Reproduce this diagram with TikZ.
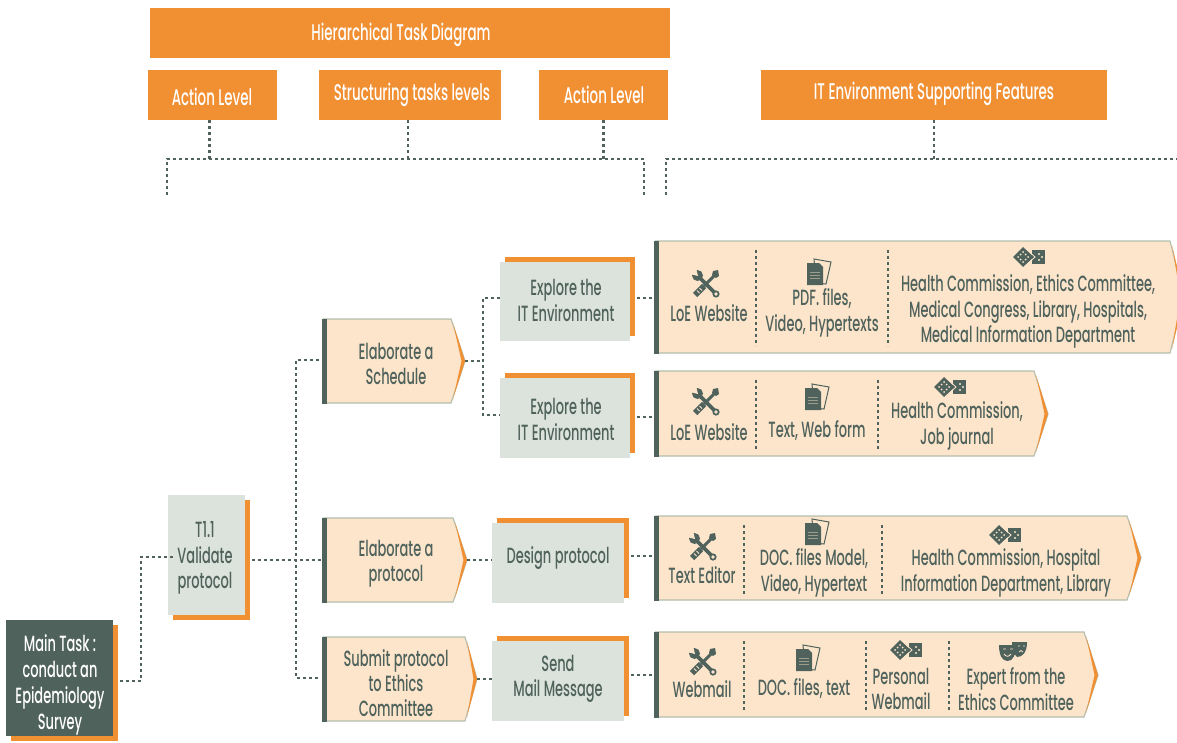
\documentclass[tikz,border=0pt]{standalone}
\usepackage{fontspec}
\setmainfont{Poppins Medium}[FakeStretch=0.59]
\definecolor{slate}{HTML}{4F625C}
\definecolor{orng}{HTML}{F18F33}
\definecolor{cream}{HTML}{FDE5CB}
\definecolor{pale}{HTML}{DCE3DC}
\definecolor{edge}{HTML}{B4BEAE}
\tikzset{
  dots/.style={draw=slate,line width=2.6pt,dash pattern=on 2.6pt off 3.4pt},
  sep/.style={draw=slate,line width=2.6pt,dash pattern=on 2.6pt off 3.4pt},
  hdr/.style={fill=orng,text=white,inner sep=0pt,font=\fontsize{22.7}{25}\selectfont},
  lbl/.style={text=slate,align=center,inner sep=0pt,yshift=-1pt,font=\fontsize{22}{25.3}\selectfont},
  wlbl/.style={lbl,text=white,font=\fontsize{22}{26}\selectfont},
  tools/.pic={
    % wrench
    \draw[slate,line width=3.6pt] (-8,-8) -- (9,9);
    \fill[slate] (-8.5,-8.5) circle (5.5pt);
    \fill[cream] (-8,-8) -- (-16,-10) -- (-10,-16) -- cycle;
    \fill[slate] (10,10) circle (3.6pt);
    \fill[cream] (10,10) circle (1.8pt);
    % screwdriver
    \draw[slate,line width=6pt] (-11,11) -- (-2,2);
    \draw[cream,line width=.8pt] (-9,6.5) -- (-6.5,9) (-6.5,4) -- (-4,6.5);
    \draw[slate,line width=3pt] (-2,2) -- (10,-10);
    \fill[slate] (7,-13) -- (12,-14) -- (13,-8) -- (10,-6) -- (6,-9) -- cycle;
  },
  docs/.pic={
    \filldraw[fill=cream,draw=slate,line width=1pt] (-4,-13) -- (13,-10) -- (8,12) -- (-2,11) -- cycle;
    \fill[slate] (-11,-9) -- (1,-9) -- (5,-5) -- (5,13) -- (-11,13) -- cycle;
    \draw[cream!45!slate,line width=.7pt] (-8,0) -- (2,0) (-8,3) -- (2,3) (-8,6) -- (2,6);
  },
  dice/.pic={
    \fill[slate] (3,-7) rectangle (16,7);
    \fill[slate] (-16,0) -- (-6,-10) -- (5,0) -- (-6,10) -- cycle;
    \draw[cream,line width=.8pt] (-6,-11) -- (6,0) -- (-6,11);
    \foreach \p in {(-11,0),(-6,-5),(-1,0),(-6,5),(-8.5,-2.5),(-3.5,-2.5),(-8.5,2.5),(-3.5,2.5)}
      \fill[cream] \p circle (1pt);
    \foreach \p in {(10,-3),(10,3),(13,0)}
      \fill[cream] \p circle (1.1pt);
  },
  masks/.pic={
    \fill[slate] (-1,-9) -- (14,-9) .. controls (14,2) and (9,6) .. (4,6) -- (-1,0) -- cycle;
    \fill[slate] (-14,-6) -- (3,-6) .. controls (3,4) and (0,10) .. (-5.5,10) .. controls (-11,10) and (-14,4) .. (-14,-6) -- cycle;
    \draw[cream,line width=.8pt] (-10,-2) -- (-7,-2) (-3,-2) -- (0,-2) (-9,3) .. controls (-7,6) and (-4,6) .. (-2,3);
    \draw[cream,line width=.8pt] (5,-5) -- (7,-5) (10,-5) -- (12,-5) (6,1) .. controls (7,-1) and (9,-1) .. (10,1);
  }
}
% name, left, top, shoulder, tip, bottom, mid
\newcommand\banner[7]{%
  \fill[cream] (#2,#3) -- (#4,#3) -- (#5,#7) -- (#4,#6) -- (#2,#6) -- cycle;
  \draw[edge,line width=1.1pt] (#2,#3) -- (#4,#3) -- (#5,#7) -- (#4,#6) -- (#2,#6);
  \fill[orng] (#4+2,#3+4) -- (#5,#7) -- (#4+2,#6-4) -- (#5-3.5,#7) -- cycle;
  \fill[slate] (#2-1,#3-.5) rectangle (#2+3.5,#6+.5);
  \coordinate (#1-in) at (#2,#7);
  \coordinate (#1-out) at (#5,#7);
}
% name, x1, y1, x2, y2, dx, dy, fill
\newcommand\tbox[8]{%
  \fill[orng] (#2+#6,#3+#7) rectangle (#4+#6,#5+#7);
  \node[fill=#8,inner sep=0pt,minimum width={(#4-#2)*1pt},minimum height={(#5-#3)*1pt}] (#1) at ({(#2+#4)/2},{(#3+#5)/2}) {};
}
\begin{document}
\begin{tikzpicture}[x=1pt,y=-1pt]
\useasboundingbox (0,0) rectangle (1177,742);
% header
\node[hdr,minimum width=520pt,minimum height=50pt] (title) at (410,33) {};
\node[hdr,fill=none] (titletxt) at (401,35) {Hierarchical Task Diagram};
\node[hdr,minimum width=129.5pt,minimum height=50pt] (act1) at (212.25,95) {};
\node[hdr,fill=none] (act1txt) at (212,97) {Action Level};
\node[hdr,minimum width=182pt,minimum height=50pt] (struct) at (410,95) {};
\node[hdr,fill=none] (structtxt) at (412,95) {Structuring tasks levels};
\node[hdr,minimum width=129pt,minimum height=50pt] (act2) at (603.5,95) {};
\node[hdr,fill=none] (act2txt) at (604,95) {Action Level};
\node[hdr,minimum width=346pt,minimum height=50pt] (itenv) at (934,95) {};
\node[hdr,fill=none] (itenvtxt) at (934,94) {IT Environment Supporting Features};
% brackets
\coordinate (bl) at (167,195); \coordinate (blc) at (167,159);
\coordinate (br) at (644,195); \coordinate (brc) at (644,159);
\coordinate (rl) at (666,195); \coordinate (rlc) at (666,159);
\coordinate (rr) at (1177,159);
\draw[dots] (bl) -- (blc) -- (brc) -- (br);
\draw[dots] (rl) -- (rlc) -- (rr);
\draw[dots] ([xshift=-3pt]act1.south) -- ([xshift=-3pt]act1.south |- blc);
\draw[dots] ([xshift=-2pt]struct.south) -- ([xshift=-2pt]struct.south |- blc);
\draw[dots] (act2.south) -- (act2.south |- blc);
\draw[dots] (itenv.south) -- (itenv.south |- rlc);
% left boxes
\tbox{main}{6}{620}{113}{736}{5}{5}{slate}
\node[wlbl] (maintxt) at (60,684) {Main Task :\\conduct an\\Epidemiology\\Survey};
\tbox{t11}{168}{495}{245}{615}{5}{5}{pale}
% task banners
\banner{sch}{323}{319}{451}{465}{403}{361}
\node[lbl] (schtxt) at (396,363) {Elaborate a\\Schedule};
\banner{pro}{323}{518}{453}{467}{602}{560}
\node[lbl] (protxt) at (396,563) {Elaborate a\\protocol};
\banner{sub}{323}{637}{465}{477}{721}{679}
\node[lbl] (subtxt) at (396,682) {Submit protocol\\to Ethics\\Committee};
% action boxes
\tbox{ex1}{500}{262}{630}{341}{5}{-5}{pale}
\node[lbl] (ex1txt) at (566,299.5) {Explore the\\IT Environment};
\tbox{ex2}{500}{378}{630}{458}{5}{-5}{pale}
\node[lbl] (ex2txt) at (566,418.5) {Explore the\\IT Environment};
\tbox{des}{492}{523}{624}{603}{5}{-5}{pale}
\node[lbl] (destxt) at (558,557) {Design protocol};
\tbox{snd}{492}{641}{624}{721}{5}{-5}{pale}
\node[lbl] (sndtxt) at (558,678) {Send\\Mail Message};
\node[lbl] (t11txt) at (205,557) {T1.1\\Validate\\protocol};
% connectors
\coordinate (m1) at (120,681); \coordinate (m2) at (141,681); \coordinate (m3) at (141,557); \coordinate (m4) at (175,557);
\draw[dots] (m1) -- (m2) -- (m3) -- (m4);
\coordinate (t1) at (252,560); \coordinate (t2) at (323,560);
\draw[dots] (t1) -- (t2);
\coordinate (v1) at (296,360); \coordinate (v2) at (296,678);
\coordinate (v1e) at (319,360); \coordinate (v2e) at (319,678);
\draw[dots] (v1e) -- (v1) -- (v2) -- (v2e);
\coordinate (j1) at (483,298); \coordinate (j2) at (483,415);
\draw[dots] (sch-out) -- (sch-out -| j1);
\draw[dots] (ex1.west |- j1) -- (j1) -- (j2) -- (ex2.west |- j2);
\draw[dots] (pro-out) -- (pro-out -| des.west);
\draw[dots] (sub-out) -- (sub-out -| snd.west);
% feature banners
\banner{f1}{655}{241}{1170}{1184}{353}{297}
\banner{f2}{655}{371}{1034}{1048}{456}{414}
\banner{f3}{655}{516}{1127}{1141}{600}{558}
\banner{f4}{655}{632}{1084}{1098}{717}{675}
\coordinate (e1) at (637,298); \coordinate (e2) at (637,417); \coordinate (e3) at (631,556); \coordinate (e4) at (631,675);
\draw[dots] (e1) -- (e1 -| f1-in);
\draw[dots] (e2) -- (e2 -| f2-in);
\draw[dots] (e3) -- (e3 -| f3-in);
\draw[dots] (e4) -- (e4 -| f4-in);
% separators
\draw[sep] (756,250) -- (756,346); \draw[sep] (888,250) -- (888,346);
\draw[sep] (756,380) -- (756,450); \draw[sep] (878,380) -- (878,450);
\draw[sep] (744,525) -- (744,595); \draw[sep] (882,525) -- (882,595);
\draw[sep] (744,641) -- (744,711); \draw[sep] (866,641) -- (866,711); \draw[sep] (949,641) -- (949,711);
% f1
\pic at (706,284) {tools};
\node[lbl] (f1a) at (709,312) {LoE Website};
\pic at (818,272) {docs};
\node[lbl] (f1b) at (822,312) {PDF. files,\\Video, Hypertexts};
\pic at (1029,257) {dice};
\node[lbl] (f1c) at (1028,310.5) {Health Commission, Ethics Committee,\\Medical Congress, Library, Hospitals,\\Medical Information Department};
% f2
\pic at (706,402) {tools};
\node[lbl] (f2a) at (709,431) {LoE Website};
\pic at (816,397) {docs};
\node[lbl] (f2b) at (817,430) {Text, Web form};
\pic at (950,387) {dice};
\node[lbl] (f2c) at (957,425) {Health Commission,\\Job journal};
% f3
\pic at (703,547) {tools};
\node[lbl] (f3a) at (702,574) {Text Editor};
\pic at (816,532) {docs};
\node[lbl] (f3b) at (814,572) {DOC. files Model,\\Video, Hypertext};
\pic at (1005,535) {dice};
\node[lbl] (f3c) at (1006,572) {Health Commission, Hospital\\Information Department, Library};
% f4
\pic at (703,662) {tools};
\node[lbl] (f4a) at (702,688) {Webmail};
\pic at (807,658) {docs};
\node[lbl] (f4b) at (804,688) {DOC. files, text};
\pic at (906,650) {dice};
\node[lbl] (f4c) at (901,688) {Personal\\Webmail};
\pic at (1013,651) {masks};
\node[lbl] (f4d) at (1016,688) {Expert from the\\Ethics Committee};
\end{tikzpicture}
\end{document}
